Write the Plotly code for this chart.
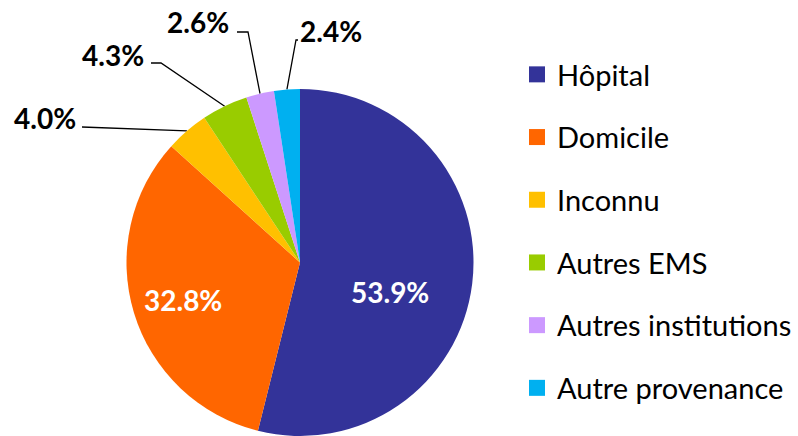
import numpy as np
import plotly.graph_objects as go

# data
labels = ["Hôpital", "Domicile", "Inconnu", "Autres EMS",
          "Autres institutions", "Autre provenance"]
shares = [53.9, 32.8, 4.0, 4.3, 2.6, 2.4]
colors = ["#333399", "#FF6600", "#FFC000", "#99CC00", "#CC99FF", "#00B0F0"]

W, H = 798, 436
FONT = "Lato, 'Open Sans', sans-serif"

# pie geometry (pixels)
PIE_X = (125, 475)
PIE_TOP = 89
dom_y_top = (H - PIE_TOP) / H
radius = min(PIE_X[1] - PIE_X[0], dom_y_top * H) / 2
cx = (PIE_X[0] + PIE_X[1]) / 2
cy = H - radius

# label placement: text centre, plus elbow of the leader line for small slices
label_style = {
    0: dict(text_xy=(390, 292), color="white"),
    1: dict(text_xy=(183, 300), color="white"),
    2: dict(text_xy=(45, 118), elbow=[(82, 127)]),
    3: dict(text_xy=(113, 55), elbow=[(151, 63), (161, 63)]),
    4: dict(text_xy=(198, 22), elbow=[(237, 32), (248, 32)]),
    5: dict(text_xy=(331, 31), elbow=[(298, 40), (296, 40)]),
}

fig = go.Figure()

fig.add_trace(go.Pie(
    labels=labels, values=shares, sort=False, direction="clockwise",
    rotation=0, marker=dict(colors=colors, line=dict(width=0)),
    textinfo="none",
    domain=dict(x=[PIE_X[0] / W, PIE_X[1] / W], y=[0, dom_y_top]),
    showlegend=False, hoverinfo="label+percent",
))

# leader lines from the slice mid-angle on the rim, and the labels
total = sum(shares)
cum = np.cumsum([0] + shares[:-1])
for i, st in label_style.items():
    if "elbow" in st:
        ang = 2 * np.pi * (cum[i] + shares[i] / 2) / total
        tip = (cx + radius * np.sin(ang), cy - radius * np.cos(ang))
        pts = st["elbow"] + [tip]
        fig.add_trace(go.Scatter(
            x=[p[0] for p in pts], y=[p[1] for p in pts], mode="lines",
            line=dict(color="black", width=1.3), showlegend=False,
            hoverinfo="skip",
        ))
    fig.add_annotation(
        x=st["text_xy"][0], y=st["text_xy"][1], xref="x", yref="y",
        text=f"{shares[i]:.1f}%", showarrow=False,
        font=dict(family=FONT, size=28, color=st.get("color", "black"),
                  weight="bold"),
    )

# legend entries
for lab, col in zip(labels, colors):
    fig.add_trace(go.Scatter(
        x=[None], y=[None], mode="markers", name=lab, legendgroup=lab,
        marker=dict(symbol="square", size=18, color=col),
    ))

fig.update_layout(
    width=W, height=H,
    margin=dict(l=0, r=0, t=0, b=0),
    paper_bgcolor="white", plot_bgcolor="white",
    font=dict(family=FONT, size=29, color="black"),
    xaxis=dict(range=[0, W], visible=False, fixedrange=True),
    yaxis=dict(range=[H, 0], visible=False, fixedrange=True),
    legend=dict(x=517 / W, y=1 - 49 / H, xanchor="left", yanchor="top",
                tracegroupgap=22, font=dict(size=29),
                bgcolor="rgba(0,0,0,0)"),
)

fig.write_html("out.html", config={"displayModeBar": False},
               post_script="document.body.style.margin='0';")
